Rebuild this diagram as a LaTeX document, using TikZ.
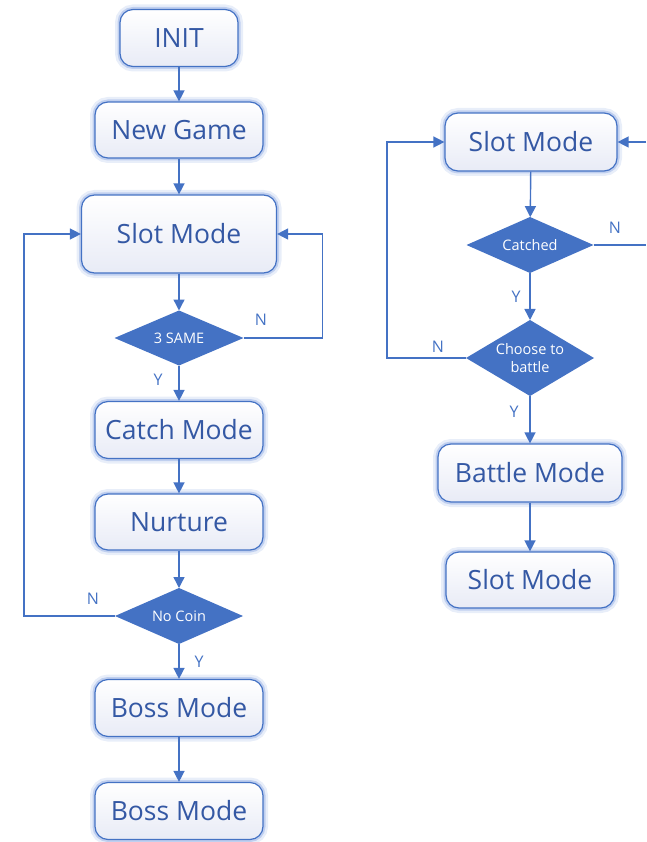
\documentclass[tikz,border=0pt]{standalone}
\usepackage{fontspec}
\setmainfont{Open Sans}
\usetikzlibrary{shapes.geometric, arrows.meta, positioning, calc}

\definecolor{officeblue}{RGB}{68,114,196}
\definecolor{textblue}{RGB}{52,88,164}
\definecolor{glowblue}{RGB}{130,160,224}
\definecolor{boxshade}{RGB}{232,235,246}

\tikzset{
	modebox/.style={rectangle, rounded corners=13pt, draw=officeblue, line width=1.2pt,
		top color=white, bottom color=boxshade, text=textblue,
		font=\fontsize{26.5}{30}\selectfont, inner sep=0pt,
		preaction={draw=glowblue, line width=10pt, opacity=0.18},
		preaction={draw=glowblue, line width=5pt, opacity=0.4}},
	decision/.style={diamond, fill=officeblue, text=white, inner sep=0pt, outer sep=0pt,
		font=\fontsize{14.5}{18}\selectfont, align=center},
	flow/.style={draw=officeblue, line width=1.4pt, -{Triangle[width=11pt,length=11pt]}},
	yn/.style={text=officeblue, font=\fontsize{16}{18}\selectfont}
}

\begin{document}
\begin{tikzpicture}[x=1pt, y=-1pt]
	\useasboundingbox (0,0) rectangle (646,842);

	% left column
	\node[modebox, minimum width=118pt, minimum height=57pt] (init) at (179,38) {INIT};
	\node[modebox, minimum width=168pt, minimum height=56pt] (newgame) at (179,130) {New Game};
	\node[modebox, minimum width=195pt, minimum height=78pt] (slotL) at (179,234) {Slot Mode};
	\node[decision, aspect=2.3, minimum width=129pt, minimum height=55pt] (same) at (179,338) {3 SAME};
	\node[modebox, minimum width=168pt, minimum height=57pt] (catch) at (179,430) {Catch Mode};
	\node[modebox, minimum width=168pt, minimum height=56pt] (nurture) at (179,522) {Nurture};
	\node[decision, aspect=2.3, minimum width=128pt, minimum height=56pt] (nocoin) at (179,616) {No Coin};
	\node[modebox, minimum width=168pt, minimum height=57pt] (bossA) at (179,708) {Boss Mode};
	\node[modebox, minimum width=168pt, minimum height=57pt] (bossB) at (179,811) {Boss Mode};

	% right column
	\node[modebox, minimum width=172pt, minimum height=58pt] (slotR) at (531,142) {Slot Mode};
	\node[decision, aspect=2.3, minimum width=127pt, minimum height=56pt] (catched) at (530,245) {Catched};
	\node[decision, aspect=1.68, inner sep=-3pt, minimum width=128pt, minimum height=76pt] (choose) at (530,358) {Choose to\\battle};
	\node[modebox, minimum width=184pt, minimum height=58pt] (battle) at (530,473) {Battle Mode};
	\node[modebox, minimum width=168pt, minimum height=56pt] (slotEnd) at (530,580) {Slot Mode};

	\coordinate (rimA) at (646,142);
	\coordinate (rimB) at (646,245);

	% yes / no marks
	\node[yn] (nSame) at (261,320) {N};
	\node[yn] (ySame) at (158,380) {Y};
	\node[yn] (nCoin) at (93,599) {N};
	\node[yn] (yCoin) at (199,662) {Y};
	\node[yn] (nCatch) at (615,228) {N};
	\node[yn] (yCatch) at (516,297) {Y};
	\node[yn] (nChoose) at (438,347) {N};
	\node[yn] (yChoose) at (514,412) {Y};

	\draw[flow] (init) -- (newgame);
	\draw[flow] (newgame) -- (slotL);
	\draw[flow] (slotL) -- (same);
	\draw[flow] (same) -- (catch);
	\draw[flow] (catch) -- (nurture);
	\draw[flow] (nurture) -- (nocoin);
	\draw[flow] (nocoin) -- (bossA);
	\draw[flow] (bossA) -- (bossB);
	\draw[flow] (same.east) -- ++(79,0) |- (slotL.east);
	\draw[flow] (nocoin.west) -- ++(-91,0) |- (slotL.west);

	\draw[flow] (slotR) -- (catched);
	\draw[flow] (catched) -- (choose);
	\draw[flow] (choose) -- (battle);
	\draw[flow] (battle) -- (slotEnd);
	\draw[flow] (choose.west) -- ++(-79,0) |- (slotR.west);
	\draw[flow] (rimA) -- (slotR.east);
	\draw[draw=officeblue, line width=1.4pt] (catched.east) -- (rimB);
\end{tikzpicture}
\end{document}
